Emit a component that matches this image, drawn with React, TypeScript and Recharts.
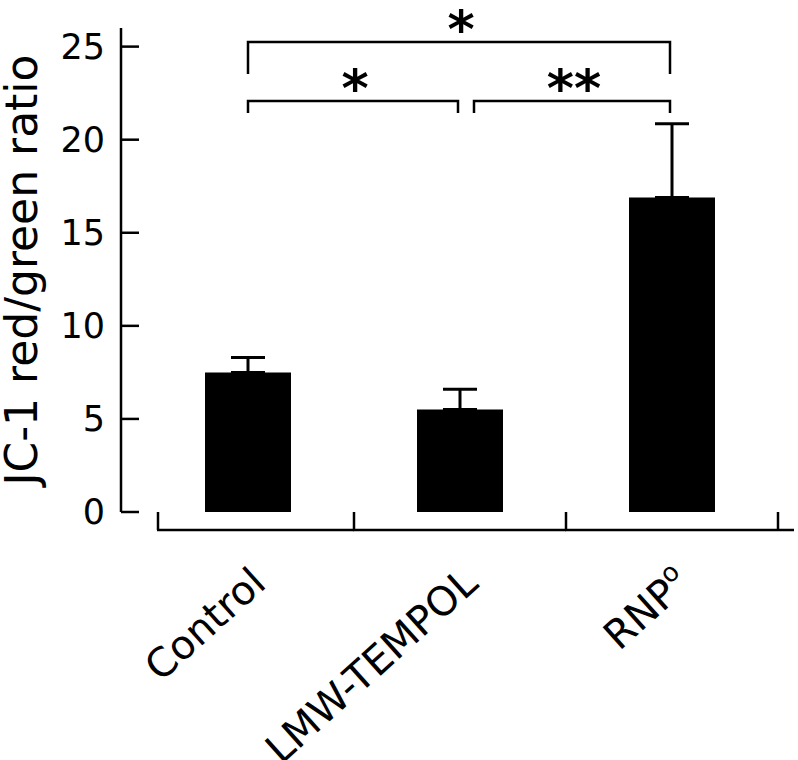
import React from 'react';
import { BarChart, Bar, XAxis, YAxis, ErrorBar, ReferenceLine } from 'recharts';

const categories = ['Control', 'LMW-TEMPOL', 'RNP'];
const superscripts = ['', '', 'o'];
const means = [7.5, 5.5, 16.9];
const upperErrors = [0.8, 1.1, 3.95];
const yTicks = [0, 5, 10, 15, 20, 25];

// significance brackets between groups
const bracketFrom = ['Control', 'Control', 'LMW-TEMPOL'];
const bracketTo = ['RNP', 'LMW-TEMPOL', 'RNP'];
const bracketLevel = [25.25, 22.08, 22.08];
const bracketMarks = ['*', '*', '**'];

const FONT = '"DejaVu Sans", Verdana, sans-serif';
const BRACKET_STYLE = [
  { drop: 32, insetL: 0, insetR: 2 },
  { drop: 12, insetL: 0, insetR: 2 },
  { drop: 12, insetL: 14, insetR: 2 },
];

const data = categories.map((name, i) => ({
  name,
  mean: means[i],
  err: [0, upperErrors[i]],
}));

function XTick(props: any) {
  const { x, y, payload } = props;
  const i = categories.indexOf(payload.value);
  const half = payload.offset ?? 0;
  const last = i === categories.length - 1;
  const left = x - half + (i === 0 ? 16 : 0);
  const right = x + half + (last ? 16 : 0);
  const axisY = y + 18;
  const ax = x + 20;
  const ay = y + 74;
  return (
    <g>
      <line x1={left} y1={y} x2={left} y2={axisY} stroke="#000" strokeWidth={2.5} />
      {last && <line x1={x + half} y1={y} x2={x + half} y2={axisY} stroke="#000" strokeWidth={2.5} />}
      <line x1={left - 1} y1={axisY} x2={right} y2={axisY} stroke="#000" strokeWidth={2.5} />
      <text
        x={ax}
        y={ay}
        transform={`rotate(-42, ${ax}, ${ay})`}
        textAnchor="end"
        fontSize={40}
        fontFamily={FONT}
        fill="#000"
      >
        {categories[i]}
        {superscripts[i] ? (
          <tspan dy={-16} fontSize={26}>{superscripts[i]}</tspan>
        ) : null}
      </text>
    </g>
  );
}

const makeBracket = (k: number) => (props: any) => {
  const { x1, y1, x2 } = props;
  const s = BRACKET_STYLE[k];
  const a = x1 + s.insetL;
  const b = x2 - s.insetR;
  return (
    <g>
      <path
        d={`M${a},${y1 + s.drop} L${a},${y1} L${b},${y1} L${b},${y1 + s.drop}`}
        fill="none"
        stroke="#000"
        strokeWidth={2.5}
      />
      <text
        x={(a + b) / 2 + 2}
        y={y1 + 5}
        textAnchor="middle"
        fontSize={52}
        fontWeight="bold"
        fontFamily={FONT}
        fill="#000"
      >
        {bracketMarks[k]}
      </text>
    </g>
  );
};

export default function App() {
  return (
    <div style={{ position: 'absolute', left: 0, top: 0, background: '#fff' }}>
      <BarChart
        width={798}
        height={760}
        data={data}
        margin={{ top: 28, right: 20, bottom: 0, left: 0 }}
      >
        <XAxis
          dataKey="name"
          height={248}
          padding={{ left: 21, right: 0 }}
          axisLine={false}
          tickLine={false}
          tickSize={0}
          tickMargin={0}
          interval={0}
          tick={<XTick />}
        />
        <YAxis
          width={121}
          domain={[0, 26]}
          ticks={yTicks}
          interval={0}
          axisLine={{ stroke: '#000', strokeWidth: 2.5 }}
          tickLine={{ stroke: '#000', strokeWidth: 2.5 }}
          tickSize={-18}
          tickMargin={34}
          tick={{ fill: '#000', fontSize: 35, fontFamily: FONT }}
          label={{
            value: 'JC-1 red/green ratio',
            angle: -90,
            position: 'insideLeft',
            offset: 21,
            style: { textAnchor: 'middle', fontSize: 44, fontFamily: FONT, fill: '#000' },
          }}
        />
        <Bar dataKey="mean" fill="#000" barSize={86} isAnimationActive={false}>
          <ErrorBar
            dataKey="err"
            direction="y"
            width={17}
            stroke="#000"
            strokeWidth={3}
            isAnimationActive={false}
          />
        </Bar>
        {bracketFrom.map((from, k) => (
          <ReferenceLine
            key={k}
            segment={[
              { x: from, y: bracketLevel[k] },
              { x: bracketTo[k], y: bracketLevel[k] },
            ]}
            shape={makeBracket(k)}
          />
        ))}
      </BarChart>
    </div>
  );
}
